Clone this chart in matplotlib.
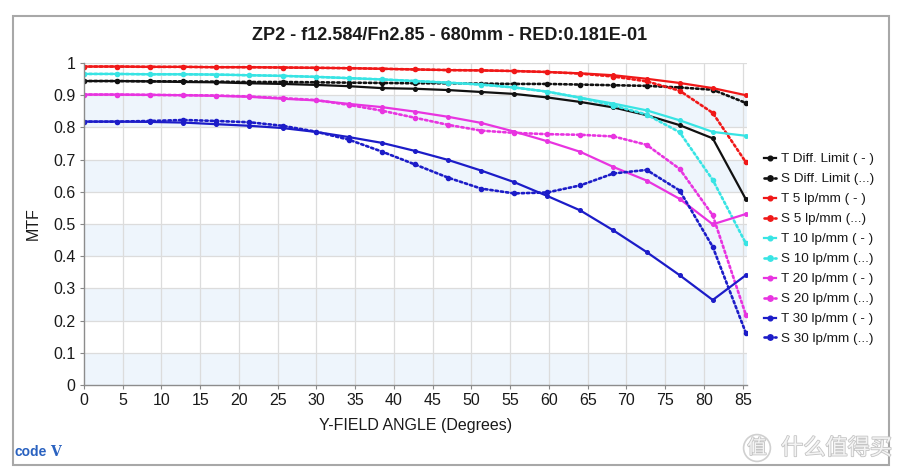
import matplotlib
matplotlib.use("Agg")
import matplotlib.pyplot as plt
from matplotlib.patches import Rectangle
import matplotlib.patheffects as pe

plt.rcParams["font.family"] = ["Liberation Sans", "DejaVu Sans"]

# field angles of the sampled points (degrees)
field = [0, 4.27, 8.54, 12.81, 17.08, 21.35, 25.62, 29.89, 34.16, 38.43, 42.70,
         46.97, 51.24, 55.51, 59.78, 64.05, 68.32, 72.59, 76.86, 81.13, 85.40]

t_diff = [0.944, 0.944, 0.943, 0.941, 0.940, 0.937, 0.935, 0.932, 0.928, 0.922, 0.920,
          0.916, 0.910, 0.904, 0.893, 0.879, 0.862, 0.838, 0.807, 0.766, 0.577]
s_diff = [0.944, 0.944, 0.943, 0.943, 0.942, 0.941, 0.941, 0.940, 0.939, 0.938, 0.937,
          0.937, 0.936, 0.935, 0.935, 0.933, 0.931, 0.929, 0.924, 0.917, 0.876]
t_5 = [0.989, 0.989, 0.988, 0.988, 0.987, 0.987, 0.986, 0.985, 0.984, 0.982, 0.980,
       0.978, 0.977, 0.975, 0.972, 0.968, 0.962, 0.951, 0.938, 0.922, 0.900]
s_5 = [0.989, 0.989, 0.988, 0.988, 0.987, 0.987, 0.986, 0.985, 0.984, 0.982, 0.980,
       0.978, 0.977, 0.975, 0.972, 0.967, 0.958, 0.943, 0.914, 0.845, 0.692]
t_10 = [0.966, 0.966, 0.965, 0.965, 0.964, 0.962, 0.960, 0.957, 0.953, 0.949, 0.944,
        0.939, 0.933, 0.924, 0.911, 0.892, 0.874, 0.853, 0.822, 0.786, 0.774]
s_10 = [0.966, 0.966, 0.965, 0.965, 0.964, 0.962, 0.960, 0.957, 0.953, 0.949, 0.944,
        0.939, 0.933, 0.924, 0.911, 0.892, 0.868, 0.840, 0.785, 0.637, 0.440]
t_20 = [0.902, 0.902, 0.901, 0.900, 0.898, 0.895, 0.889, 0.884, 0.873, 0.863, 0.849,
        0.833, 0.814, 0.787, 0.757, 0.724, 0.677, 0.635, 0.578, 0.499, 0.531]
s_20 = [0.902, 0.902, 0.901, 0.900, 0.899, 0.896, 0.891, 0.885, 0.870, 0.852, 0.830,
        0.808, 0.790, 0.783, 0.779, 0.777, 0.772, 0.746, 0.671, 0.527, 0.218]
t_30 = [0.818, 0.818, 0.817, 0.815, 0.810, 0.805, 0.798, 0.786, 0.770, 0.752, 0.727,
        0.699, 0.666, 0.630, 0.587, 0.542, 0.480, 0.413, 0.341, 0.264, 0.341]
s_30 = [0.818, 0.818, 0.820, 0.823, 0.820, 0.816, 0.805, 0.787, 0.762, 0.725, 0.685,
        0.644, 0.610, 0.595, 0.598, 0.620, 0.657, 0.668, 0.604, 0.429, 0.162]

x_ticks = [0, 5, 10, 15, 20, 25, 30, 35, 40, 45, 50, 55, 60, 65, 70, 75, 80, 85]
y_ticks = [0, 0.1, 0.2, 0.3, 0.4, 0.5, 0.6, 0.7, 0.8, 0.9, 1]
y_tick_labels = ["0", "0.1", "0.2", "0.3", "0.4", "0.5", "0.6", "0.7", "0.8", "0.9", "1"]
bands = [(0, 0.1), (0.2, 0.3), (0.4, 0.5), (0.6, 0.7), (0.8, 0.9)]

title = "ZP2 - f12.584/Fn2.85 - 680mm - RED:0.181E-01"

BLACK = "#111111"
RED = "#f01818"
CYAN = "#38e4e4"
MAGENTA = "#e834e0"
BLUE = "#1c1cc8"


def draw_curve(ax, values, color, label, dotted):
    if dotted:
        ax.plot(field, values, color=color, lw=1.9, ls=(0, (0.9, 1.1)),
                marker="o", ms=3.0, label=label, dash_capstyle="round")
    else:
        ax.plot(field, values, color=color, lw=1.6, ls="-",
                marker="o", ms=2.6, label=label)


def main():
    fig = plt.figure(figsize=(9.02, 4.76), dpi=100)
    fig.patch.set_facecolor("white")

    # outer frame
    fig.patches.append(Rectangle((13 / 902, 1 - 465 / 476), 876 / 902, 449 / 476,
                                 transform=fig.transFigure, fill=False,
                                 edgecolor="#a8a8a8", lw=1.5))

    ax = fig.add_axes([84 / 902, 1 - 385 / 476, 663 / 902, 322 / 476])

    for lo, hi in bands:
        ax.axhspan(lo, hi, color="#eef5fc", lw=0, zorder=0)
    for xv in x_ticks[1:]:
        ax.axvline(xv, color="#dcdcdc", lw=0.9, zorder=0.5)
    for yv in y_ticks[1:]:
        ax.axhline(yv, color="#dcdcdc", lw=0.9, zorder=0.5)

    draw_curve(ax, t_diff, BLACK, "T Diff. Limit ( - )", False)
    draw_curve(ax, s_diff, BLACK, "S Diff. Limit (...)", True)
    draw_curve(ax, t_5, RED, "T 5 lp/mm ( - )", False)
    draw_curve(ax, s_5, RED, "S 5 lp/mm (...)", True)
    draw_curve(ax, t_10, CYAN, "T 10 lp/mm ( - )", False)
    draw_curve(ax, s_10, CYAN, "S 10 lp/mm (...)", True)
    draw_curve(ax, t_20, MAGENTA, "T 20 lp/mm ( - )", False)
    draw_curve(ax, s_20, MAGENTA, "S 20 lp/mm (...)", True)
    draw_curve(ax, t_30, BLUE, "T 30 lp/mm ( - )", False)
    draw_curve(ax, s_30, BLUE, "S 30 lp/mm (...)", True)

    ax.set_xlim(0, 85.55)
    ax.set_ylim(0, 1)
    ax.set_xticks(x_ticks)
    ax.set_yticks(y_ticks)
    ax.set_yticklabels(y_tick_labels)
    ax.tick_params(axis="both", labelsize=11.5, colors="#888888", labelcolor="#1a1a1a",
                   length=3, width=0.8, pad=3)
    for side in ["top", "right"]:
        ax.spines[side].set_visible(False)
    for side in ["left", "bottom"]:
        ax.spines[side].set_color("#8c8c8c")
        ax.spines[side].set_linewidth(1.0)

    ax.set_xlabel("Y-FIELD ANGLE (Degrees)", fontsize=11.5, color="#1a1a1a", labelpad=7)
    ax.set_ylabel("MTF", fontsize=11.5, color="#1a1a1a", labelpad=9)

    fig.text(450 / 902, 1 - 36 / 476, title, ha="center", va="center",
             fontsize=13, fontweight="bold", color="#1a1a1a")

    fig.legend(loc="upper left", bbox_to_anchor=(764 / 902, 1 - 153 / 476),
               frameon=False, fontsize=9.7, handlelength=0.9, handletextpad=0.35,
               labelspacing=0.56, borderpad=0, borderaxespad=0, markerscale=1.3,
               labelcolor="#1a1a1a")

    # CODE V logo
    fig.text(15 / 902, 1 - 452 / 476, "code", ha="left", va="center", fontsize=10,
             fontweight="bold", color="#2a62c0", fontstretch="condensed")
    fig.text(50 / 902, 1 - 452 / 476, "V", ha="left", va="center", fontsize=10,
             fontweight="bold", color="#2a62c0", family=["DejaVu Serif"])

    # watermark
    stroke = [pe.withStroke(linewidth=1.2, foreground="#c4c4c4")]
    fig.text(757 / 902, 1 - 448 / 476, "值", ha="center", va="center", fontsize=14,
             color="#f4f4f4", family=["Noto Sans CJK SC"], path_effects=stroke,
             bbox=dict(boxstyle="circle,pad=0.15", fc="none", ec="#d0d0d0", lw=1.2))
    fig.text(781 / 902, 1 - 448 / 476, "什么值得买", ha="left", va="center", fontsize=16,
             color="#f4f4f4", family=["Noto Sans CJK SC"], path_effects=stroke)

    fig.savefig("out.png", dpi=100)


if __name__ == "__main__":
    main()
